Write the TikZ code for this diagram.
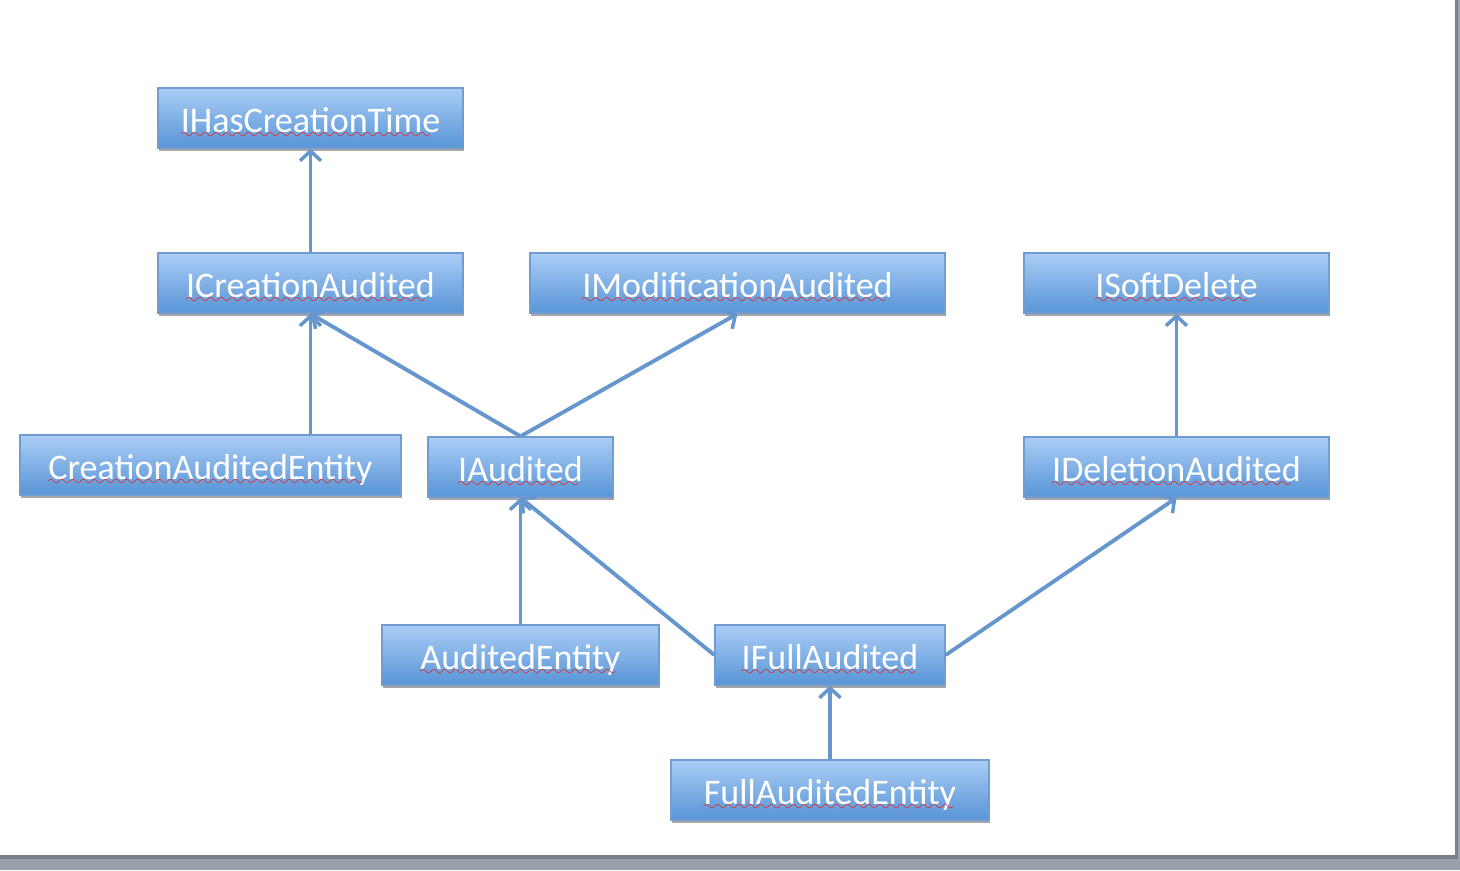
\documentclass[tikz,border=0pt]{standalone}
\usepackage{fontspec}
\setmainfont{Carlito}
\usetikzlibrary{arrows.meta,shadows}

\definecolor{boxtop}{RGB}{170,205,245}
\definecolor{boxbot}{RGB}{88,148,214}
\definecolor{boxline}{RGB}{112,156,210}
\definecolor{linkblue}{RGB}{102,150,206}
\definecolor{pagegray}{RGB}{154,160,172}
\definecolor{edgegray}{RGB}{122,128,138}
\definecolor{spellred}{RGB}{235,30,20}

\font\wavefont=lasy9
\newcommand{\spell}[1]{\setbox0\hbox{#1}\rlap{\copy0}\smash{\lower3.4pt\hbox to \wd0{\color{spellred}\wavefont\leaders\hbox{\char58}\hfil}}}

\begin{document}
\begin{tikzpicture}[x=0.02cm, y=-0.02cm,
    >={Straight Barb[length=5.5pt,width=12pt,line width=2pt]},
    cls/.style={draw=boxline, line width=0.8pt, top color=boxtop, bottom color=boxbot,
      minimum height=1.2cm, text height=16pt, text depth=0pt, text=white,
      font=\fontsize{20.5}{24}\selectfont,
      drop shadow={shadow xshift=0.6pt, shadow yshift=-1.8pt, opacity=0.35, fill=black}},
    link/.style={color=linkblue, line width=2.2pt}]

    % page and its edge
    \fill[pagegray] (0,0) rectangle (1460,870);
    \fill[edgegray] (0,0) rectangle (1458,859);
    \fill[white] (0,0) rectangle (1455,855);

    \node[cls, minimum width=6.1cm]  at ( 310.5, 118) (hasct)   {\spell{IHasCreationTime}};
    \node[cls, minimum width=6.1cm]  at ( 310.5, 283) (creaud)  {\spell{ICreationAudited}};
    \node[cls, minimum width=8.3cm]  at ( 737.5, 283) (modaud)  {\spell{IModificationAudited}};
    \node[cls, minimum width=6.1cm]  at (1176.5, 283) (softdel) {\spell{ISoftDelete}};
    \node[cls, minimum width=7.62cm] at ( 210.5, 465) (creent)  {\spell{CreationAuditedEntity}};
    \node[cls, minimum width=3.7cm]  at ( 520.5, 467) (audited) {\spell{IAudited}};
    \node[cls, minimum width=6.1cm]  at (1176.5, 467) (delaud)  {\spell{IDeletionAudited}};
    \node[cls, minimum width=5.54cm] at ( 520.5, 655) (audent)  {\spell{AuditedEntity}};
    \node[cls, minimum width=4.6cm]  at ( 830,   655) (fullaud) {\spell{IFullAudited}};
    \node[cls, minimum width=6.36cm] at ( 830,   790) (fullent) {\spell{FullAuditedEntity}};

    \coordinate (creentup) at (creaud.south |- creent.north);

    \path[link, ->] (creaud.north)  edge (hasct.south);
    \path[link, ->] (creentup)      edge (creaud.south);
    \path[link, ->] (audited.north) edge (creaud.south);
    \path[link, ->] (audited.north) edge (modaud.south);
    \path[link, ->] (delaud.north)  edge (softdel.south);
    \path[link, ->] (audent.north)  edge (audited.south);
    \path[link, ->] (fullaud.west)  edge (audited.south);
    \path[link, ->] (fullaud.east)  edge (delaud.south);
    \path[link, ->] (fullent.north) edge (fullaud.south);

  \end{tikzpicture}
\end{document}
